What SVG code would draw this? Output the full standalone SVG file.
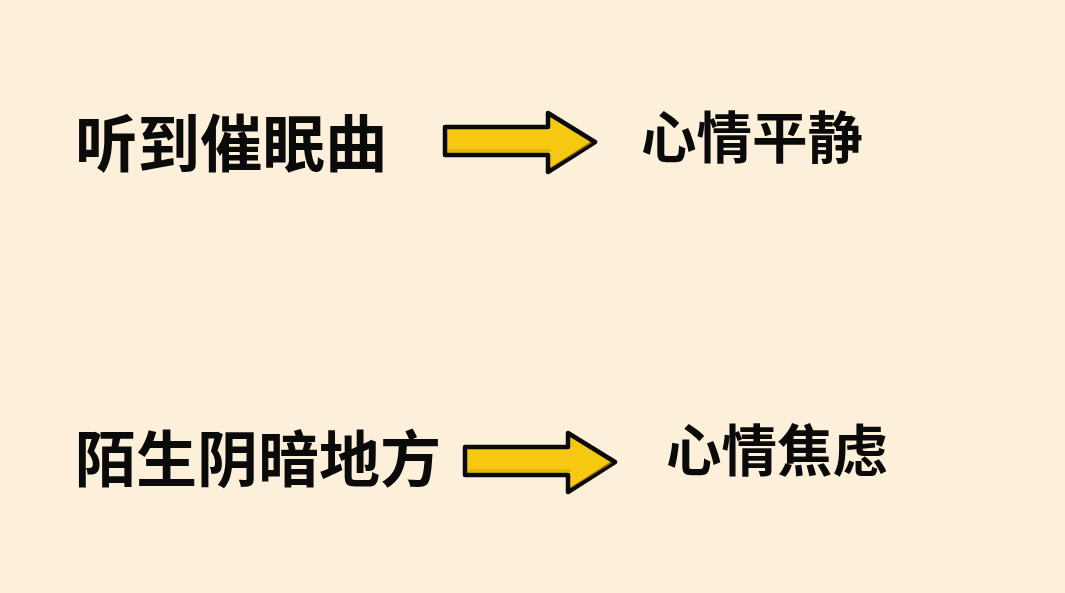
<svg xmlns="http://www.w3.org/2000/svg" width="1065" height="593" viewBox="0 0 1065 593">
<style>
.t{font-family:"Noto Sans CJK SC","Noto Sans",sans-serif;font-weight:700;fill:#0a0a0a}
.arrow{fill:#F6C812;stroke:#0a0a0a;stroke-width:4.5;stroke-linejoin:round}
.shade{fill:#D9A90C}
</style>
<defs>
<g id="arr">
<path class="arrow" d="M0,0 L103,0 L103,-14 L150,15 L103,45 L103,28 L0,28 Z"/>
<path class="shade" d="M3,22 L106,22 L106,40 L144,15 L147,16 L106,41 L106,25 L3,25 Z" opacity="0.6"/>
</g>
</defs>
<rect width="1065" height="593" fill="#FCF0DA"/>
<g id="n1"><text class="t" x="75" y="167" font-size="62.5">听到催眠曲</text></g>
<g id="n2"><text class="t" x="641" y="158" font-size="55.5">心情平静</text></g>
<g id="n3"><text class="t" x="75" y="482" font-size="61">陌生阴暗地方</text></g>
<g id="n4"><text class="t" x="666" y="471" font-size="55.5">心情焦虑</text></g>
<g id="connectors">
<use href="#arr" x="445" y="127"/>
<use href="#arr" x="465" y="447"/>
</g>
</svg>
